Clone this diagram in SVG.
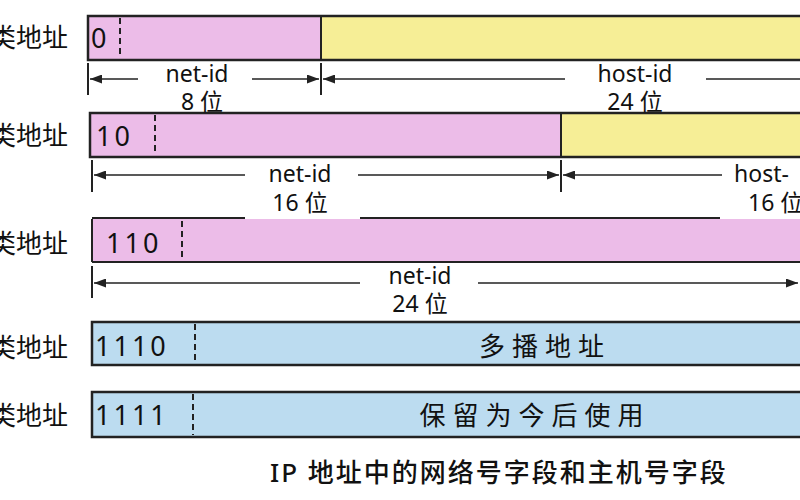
<svg xmlns="http://www.w3.org/2000/svg" width="800" height="500" viewBox="0 0 800 500">
<style>
text{font-family:"Noto Sans","Noto Sans CJK SC",sans-serif;fill:#111}
.lbl{font-size:26px}
.bits{font-size:27px;letter-spacing:3px}
.dim{font-size:23px;text-anchor:middle}
.st{text-anchor:start}
.pink{fill:#ecbce8}.yel{fill:#f6ee96}.blue{fill:#bcdcf0}
.box{fill:none;stroke:#222;stroke-width:2.5}
.dash{stroke:#222;stroke-width:2;stroke-dasharray:6 4}
.tick{stroke:#222;stroke-width:2}
.ln{stroke:#222;stroke-width:1.5;fill:none}
</style>
<defs><marker id="ar" markerWidth="8" markerHeight="6" refX="8" refY="3" orient="auto-start-reverse"><path d="M0,0L8,3L0,6z" fill="#222"/></marker></defs>
<rect width="800" height="500" fill="#fff"/>
<g id="labels">
<text class="lbl" x="-10" y="47">类地址</text>
<text class="lbl" x="-10" y="145">类地址</text>
<text class="lbl" x="-10" y="253">类地址</text>
<text class="lbl" x="-10" y="357">类地址</text>
<text class="lbl" x="-10" y="425">类地址</text>
</g>
<g id="classA">
<rect class="pink" x="88" y="16" width="233" height="44"/>
<rect class="yel" x="321" y="16" width="481" height="44"/>
<rect class="box" x="88" y="16" width="714" height="44"/>
<line class="tick" x1="321" y1="16" x2="321" y2="60"/>
<line class="dash" x1="120" y1="18" x2="120" y2="58"/>
<text class="bits" x="91" y="48">0</text>
</g>
<g id="classB">
<rect class="pink" x="90" y="113" width="471" height="44"/>
<rect class="yel" x="561" y="113" width="241" height="44"/>
<rect class="box" x="90" y="113" width="712" height="44"/>
<line class="tick" x1="561" y1="113" x2="561" y2="157"/>
<line class="dash" x1="155" y1="115" x2="155" y2="155"/>
<text class="bits" x="96" y="146">10</text>
</g>
<g id="classC">
<rect class="pink" x="92" y="219" width="710" height="43"/>
<line class="tick" x1="92" y1="219" x2="92" y2="262"/>
<line class="tick" x1="92" y1="262" x2="802" y2="262"/>
<line class="tick" x1="92" y1="218" x2="245" y2="218"/>
<line class="tick" x1="360" y1="218" x2="720" y2="218"/>
<line class="dash" x1="182" y1="221" x2="182" y2="260"/>
<text class="bits" x="106" y="253">110</text>
</g>
<g id="classD">
<rect class="blue" x="92" y="322" width="710" height="43"/>
<rect class="box" x="92" y="322" width="710" height="43"/>
<line class="dash" x1="195" y1="324" x2="195" y2="363"/>
<text class="bits" x="95" y="356">1110</text>
<text class="lbl" x="545" y="356" text-anchor="middle" letter-spacing="7">多播地址</text>
</g>
<g id="classE">
<rect class="blue" x="92" y="392" width="710" height="45"/>
<rect class="box" x="92" y="392" width="710" height="45"/>
<line class="dash" x1="193" y1="394" x2="193" y2="435"/>
<text class="bits" x="95" y="425">1111</text>
<text class="lbl" x="535" y="425" text-anchor="middle" letter-spacing="7">保留为今后使用</text>
</g>
<g id="connectors">
<line class="tick" x1="88" y1="63" x2="88" y2="95"/>
<line class="tick" x1="321" y1="63" x2="321" y2="95"/>
<line class="ln" x1="90" y1="79" x2="138" y2="79" marker-start="url(#ar)"/>
<line class="ln" x1="252" y1="79" x2="319" y2="79" marker-end="url(#ar)"/>
<line class="ln" x1="323" y1="79" x2="565" y2="79" marker-start="url(#ar)"/>
<line class="ln" x1="706" y1="79" x2="800" y2="79"/>
<line class="tick" x1="92" y1="160" x2="92" y2="192"/>
<line class="tick" x1="561" y1="160" x2="561" y2="192"/>
<line class="ln" x1="94" y1="175" x2="245" y2="175" marker-start="url(#ar)"/>
<line class="ln" x1="358" y1="175" x2="559" y2="175" marker-end="url(#ar)"/>
<line class="ln" x1="563" y1="175" x2="722" y2="175" marker-start="url(#ar)"/>
<line class="tick" x1="92" y1="266" x2="92" y2="298"/>
<line class="ln" x1="94" y1="283" x2="360" y2="283" marker-start="url(#ar)"/>
<line class="ln" x1="478" y1="283" x2="798" y2="283" marker-end="url(#ar)"/>
</g>
<g id="dims">
<text class="dim" x="197" y="82">net-id</text>
<text class="dim" x="202" y="110">8 位</text>
<text class="dim" x="635" y="82">host-id</text>
<text class="dim" x="635" y="110">24 位</text>
<text class="dim" x="300" y="182">net-id</text>
<text class="dim" x="300" y="211">16 位</text>
<text class="dim st" x="734" y="182">host-</text>
<text class="dim st" x="748" y="211">16 位</text>
<text class="dim" x="420" y="284">net-id</text>
<text class="dim" x="420" y="312">24 位</text>
</g>
<text x="270" y="482" font-size="26" font-weight="500" letter-spacing="2">IP 地址中的网络号字段和主机号字段</text>
</svg>
